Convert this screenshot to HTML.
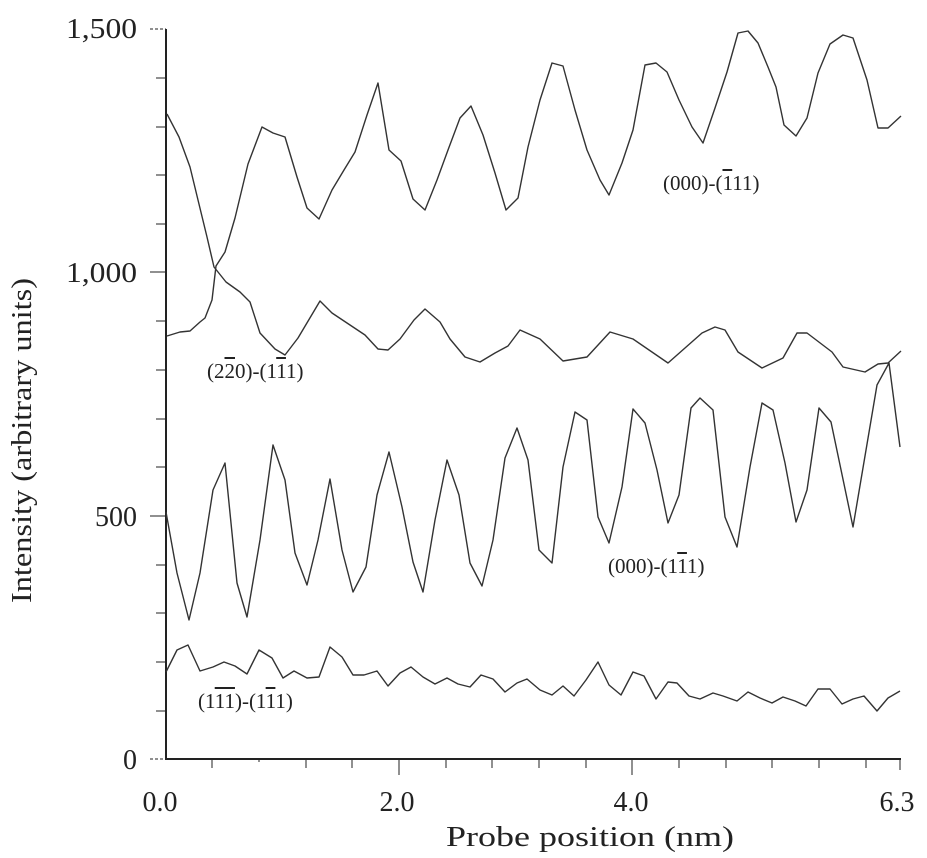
<!DOCTYPE html>
<html><head><meta charset="utf-8"><style>
html,body{margin:0;padding:0;background:#fff;}
#w{position:relative;width:927px;height:858px;overflow:hidden;font-family:"Liberation Serif",serif;color:#222;}
.l{position:absolute;white-space:nowrap;font-size:21px;line-height:1;font-family:"Liberation Serif",serif;}
.o{text-decoration:overline;}
svg text{font-family:"Liberation Serif",serif;}
</style></head><body><div id="w">
<svg width="927" height="858" style="position:absolute;left:0;top:0" xmlns="http://www.w3.org/2000/svg">
<g stroke="#222" fill="none">
<line x1="166" y1="29" x2="166" y2="760" stroke-width="2"/>
<line x1="165" y1="759" x2="901" y2="759" stroke-width="2"/>
<g stroke-width="1">
<line x1="150" y1="29" x2="166" y2="29" stroke-dasharray="3,2"/>
<line x1="156" y1="78" x2="166" y2="78"/><line x1="156" y1="127" x2="166" y2="127"/>
<line x1="156" y1="175" x2="166" y2="175"/><line x1="156" y1="224" x2="166" y2="224"/>
<line x1="150" y1="272" x2="166" y2="272"/>
<line x1="156" y1="321" x2="166" y2="321"/><line x1="156" y1="370" x2="166" y2="370"/>
<line x1="156" y1="419" x2="166" y2="419"/><line x1="156" y1="467" x2="166" y2="467"/>
<line x1="150" y1="516" x2="166" y2="516"/>
<line x1="156" y1="565" x2="166" y2="565"/><line x1="156" y1="613" x2="166" y2="613"/>
<line x1="156" y1="662" x2="166" y2="662"/><line x1="156" y1="711" x2="166" y2="711"/>
<line x1="150" y1="759" x2="166" y2="759" stroke-dasharray="3,2"/>
<line x1="212" y1="759" x2="212" y2="768"/><line x1="259" y1="759" x2="259" y2="762"/>
<line x1="306" y1="759" x2="306" y2="768"/><line x1="352" y1="759" x2="352" y2="768"/>
<line x1="399" y1="759" x2="399" y2="775"/><line x1="446" y1="759" x2="446" y2="768"/>
<line x1="492" y1="759" x2="492" y2="768"/><line x1="539" y1="759" x2="539" y2="768"/>
<line x1="586" y1="759" x2="586" y2="768"/><line x1="632" y1="759" x2="632" y2="775"/>
<line x1="679" y1="759" x2="679" y2="768"/><line x1="726" y1="759" x2="726" y2="768"/>
<line x1="772" y1="759" x2="772" y2="768"/><line x1="819" y1="759" x2="819" y2="768"/>
<line x1="866" y1="759" x2="866" y2="768"/><line x1="900" y1="759" x2="900" y2="770"/>
</g>
<g stroke-width="1.4" stroke="#333" stroke-linejoin="round">
<polyline points="167,336 180,332 190,331 200,322 205,318 212,300 216,266 225,252 235,218 248,164 262,127 273,133 285,137 297,177 307,208 319,219 332,190 344,170 355,152 367,115 378,83 389,150 401,161 413,199 425,210 437,180 448,150 460,118 471,106 483,135 495,173 506,210 518,198 528,147 540,100 552,63 563,66 575,110 587,150 600,180 609,195 622,163 633,130 645,65 656,63 667,72 679,100 692,127 703,143 715,108 727,72 738,33 748,31 758,43 768,67 776,87 784,125 796,136 807,118 818,73 830,44 843,35 853,38 867,80 878,128 888,128 901,116"/>
<polyline points="167,114 179,137 190,167 198,200 207,237 214,267 226,282 240,292 250,302 260,333 275,349 285,355 298,338 320,301 332,313 350,325 365,335 378,349 388,350 400,339 414,320 425,309 440,322 450,339 465,357 480,362 495,353 508,346 520,330 540,339 563,361 587,357 610,332 633,339 668,363 702,333 715,327 725,330 738,352 762,368 783,358 797,333 807,333 832,352 843,367 865,372 878,364 888,363 901,351"/>
<polyline points="166,512 177,573 189,620 200,573 213,490 225,463 237,583 247,617 260,540 273,445 285,480 295,553 307,585 318,540 330,479 342,550 353,592 366,567 377,495 389,452 402,507 413,562 423,592 435,520 447,460 459,495 470,563 482,586 493,540 505,458 517,428 528,460 539,550 552,563 563,467 575,412 587,420 598,517 609,543 622,487 633,409 645,423 657,470 668,523 679,495 691,408 700,398 713,410 725,517 737,547 750,467 762,403 773,410 785,463 796,522 807,490 819,408 831,422 853,527 877,385 889,363 900,447"/>
<polyline points="166,672 177,650 188,645 200,671 213,667 224,662 235,666 247,674 259,650 272,658 283,678 294,671 307,678 319,677 330,647 342,657 353,675 364,675 377,671 388,686 400,673 411,667 423,677 435,684 447,678 458,684 470,687 481,675 493,679 505,692 517,683 527,679 540,690 552,695 563,686 574,696 586,680 598,662 609,685 621,695 633,672 644,676 656,699 668,682 677,683 689,696 700,699 713,693 723,696 737,701 748,692 760,698 772,703 783,697 795,701 806,706 818,689 830,689 842,704 853,699 864,696 877,711 888,698 900,691"/>
</g>
</g>
<g font-size="28" fill="#222">
<text x="137" y="38" text-anchor="end" textLength="71" lengthAdjust="spacingAndGlyphs">1,500</text>
<text x="137" y="282" text-anchor="end" textLength="71" lengthAdjust="spacingAndGlyphs">1,000</text>
<text x="137" y="526" text-anchor="end">500</text>
<text x="137" y="769" text-anchor="end">0</text>
<text x="160" y="811" text-anchor="middle">0.0</text>
<text x="397" y="811" text-anchor="middle">2.0</text>
<text x="631" y="811" text-anchor="middle">4.0</text>
<text x="897" y="811" text-anchor="middle">6.3</text>
<text x="446" y="846" textLength="288" lengthAdjust="spacingAndGlyphs">Probe position (nm)</text>
<text transform="translate(31,603) rotate(-90)" textLength="325" lengthAdjust="spacingAndGlyphs">Intensity (arbitrary units)</text>
</g>
</svg>
<div class="l" style="left:663px;top:173px;">(000)-(<span class="o">1</span>11)</div>
<div class="l" style="left:207px;top:361px;">(2<span class="o">2</span>0)-(1<span class="o">1</span>1)</div>
<div class="l" style="left:608px;top:556px;">(000)-(1<span class="o">1</span>1)</div>
<div class="l" style="left:198px;top:691px;">(1<span class="o">11</span>)-(1<span class="o">1</span>1)</div>
</div></body></html>
